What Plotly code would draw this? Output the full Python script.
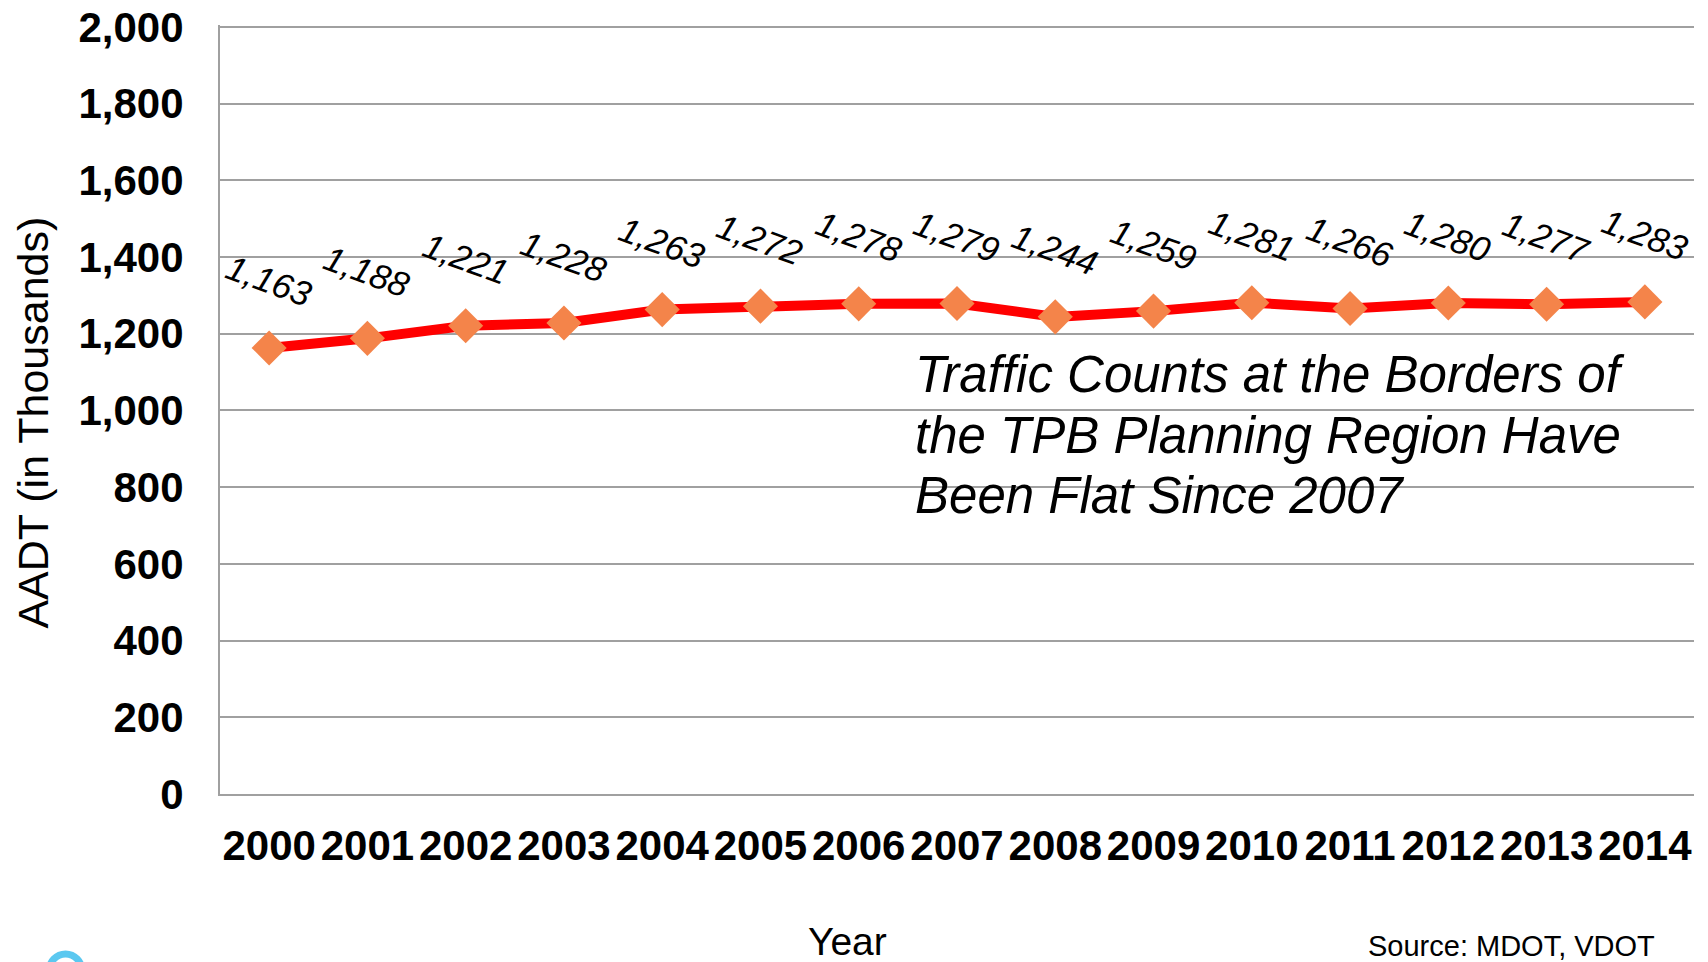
import plotly.graph_objects as go

years = ["2000", "2001", "2002", "2003", "2004", "2005", "2006", "2007",
         "2008", "2009", "2010", "2011", "2012", "2013", "2014"]
aadt = [1163, 1188, 1221, 1228, 1263, 1272, 1278, 1279,
        1244, 1259, 1281, 1266, 1280, 1277, 1283]
y_ticks = [0, 200, 400, 600, 800, 1000, 1200, 1400, 1600, 1800, 2000]
note_lines = ["Traffic Counts at the Borders of",
              "the TPB Planning Region Have",
              "Been Flat Since 2007"]

FONT = "Liberation Sans, Arial, sans-serif"
GRID = "#A0A0A0"

fig = go.Figure()

fig.add_trace(
    go.Scatter(
        x=years,
        y=aadt,
        mode="lines+markers",
        line=dict(color="#FF0000", width=10),
        marker=dict(symbol="diamond", size=27, color="#F4844A"),
        hoverinfo="x+y",
    )
)

# rotated italic data labels (category index keeps numeric-looking names from being read as positions)
for i, val in enumerate(aadt):
    fig.add_annotation(
        x=i,
        y=val,
        text="<i>{:,}</i>".format(val),
        showarrow=False,
        textangle=20,
        yshift=67,
        font=dict(family=FONT, size=35, color="black"),
    )

# the note, one line each so the spacing matches
for k, line in enumerate(note_lines):
    fig.add_annotation(
        text="<i>" + line + "</i>",
        xref="paper", yref="paper",
        x=0.470, y=0.545 - k * 0.0782,
        xanchor="left", yanchor="middle",
        showarrow=False,
        font=dict(family=FONT, size=51, color="black"),
    )

fig.add_annotation(
    text="AADT (in Thousands)",
    xref="paper", yref="paper",
    x=0, y=0.483,
    xshift=-187,
    xanchor="center", yanchor="middle",
    textangle=-90,
    showarrow=False,
    font=dict(family=FONT, size=43, color="black"),
)

fig.add_annotation(
    text="Year",
    xref="paper", yref="paper",
    x=0.4254, y=0,
    yshift=-147,
    xanchor="center", yanchor="middle",
    showarrow=False,
    font=dict(family=FONT, size=39, color="black"),
)

fig.add_annotation(
    text="Source: MDOT, VDOT",
    xref="paper", yref="paper",
    x=0.975, y=0,
    yshift=-152,
    xanchor="right", yanchor="middle",
    showarrow=False,
    font=dict(family=FONT, size=29, color="black"),
)

# top of a logo peeking in at the bottom left
fig.add_shape(
    type="circle",
    xref="paper", yref="paper",
    x0=-0.116, x1=-0.0936, y0=-0.253, y1=-0.208,
    line=dict(color="#5BC8F0", width=7),
    fillcolor="white",
)

fig.update_layout(
    width=1700,
    height=954,
    margin=dict(l=212, r=14, t=17, b=168),
    paper_bgcolor="white",
    plot_bgcolor="white",
    showlegend=False,
    font=dict(family=FONT, color="black"),
)

fig.update_xaxes(
    type="category",
    range=[-0.5, len(years) - 0.5],
    automargin=False,
    showgrid=False,
    showline=True,
    linecolor=GRID,
    linewidth=2,
    ticks="outside",
    ticklen=14,
    tickcolor="rgba(0,0,0,0)",
    ticklabeloverflow="allow",
    tickfont=dict(family=FONT, size=42, color="black", weight="bold"),
)

fig.update_yaxes(
    range=[0, 2005],
    automargin=False,
    tickvals=y_ticks,
    tickformat=",",
    showgrid=True,
    gridcolor=GRID,
    gridwidth=2,
    showline=True,
    linecolor=GRID,
    linewidth=2,
    zeroline=False,
    ticks="outside",
    ticklen=26,
    tickcolor="rgba(0,0,0,0)",
    ticklabeloverflow="allow",
    tickfont=dict(family=FONT, size=42, color="black", weight="bold"),
)

fig.write_html("out.html")
